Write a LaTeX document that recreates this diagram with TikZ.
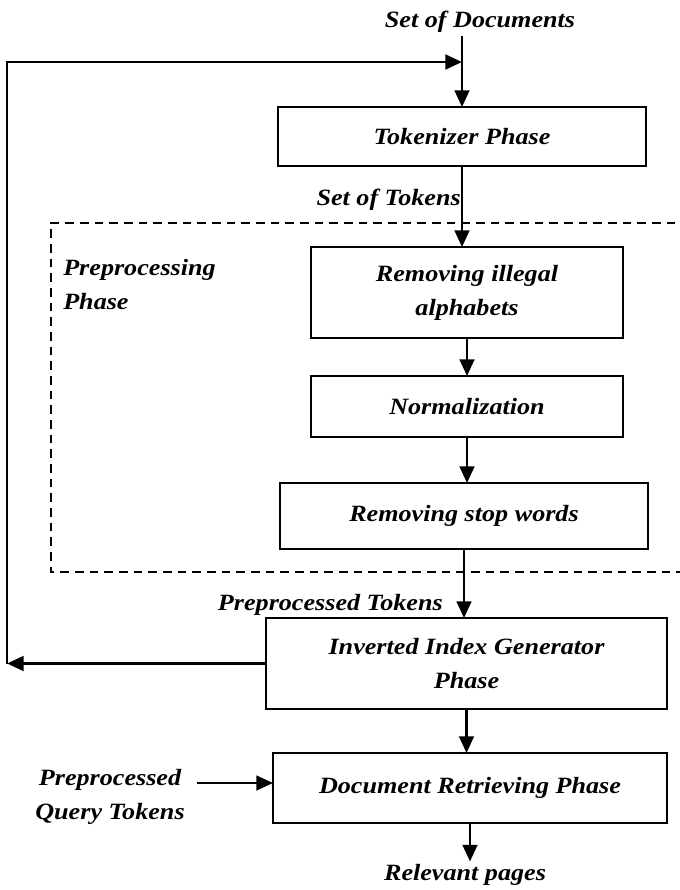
\documentclass[tikz,border=0pt]{standalone}
\usepackage{fontspec}
\setmainfont{Liberation Serif}[FakeStretch=1.12]
\usetikzlibrary{arrows.meta}
\begin{document}
\begin{tikzpicture}[x=0.75pt,y=-0.75pt,
  every node/.style={font=\fontsize{17.5pt}{25.5pt}\selectfont\bfseries\itshape},
  box/.style={draw, line width=1.6pt, inner sep=0pt, outer sep=0pt, align=center},
  lbl/.style={inner sep=0pt},
  arr/.style={line width=1.9pt, -{Triangle[length=12.5pt,width=11pt]}},
  fbline/.style={line width=2.2pt, -{Triangle[length=12.5pt,width=11pt]}},
  dashedbox/.style={line width=1.9pt, dash pattern=on 6.5pt off 4.5pt}]
\useasboundingbox (0,0) rectangle (680,890);
\fill[white] (0,0) rectangle (680,890);

% process boxes
\node[box, minimum width=276pt, minimum height=44.25pt] (tok) at (462,136.5) {Tokenizer Phase};
\node[box, minimum width=234pt, minimum height=68.25pt] (ril) at (467,292.5) {Removing illegal\\alphabets};
\node[box, minimum width=234pt, minimum height=45.75pt] (norm) at (467,406.5) {Normalization};
\node[box, minimum width=276pt, minimum height=49.5pt] (rsw) at (464,516) {Removing stop words};
\node[box, minimum width=300.75pt, minimum height=68.25pt] (inv) at (466.5,663.5) {Inverted Index Generator\\Phase};
\node[box, minimum width=295.5pt, minimum height=52.5pt] (dr) at (470,788) {Document Retrieving Phase};

% labels
\node[lbl, inner sep=2pt] (sod) at (480,22) {Set of Documents};
\node[lbl, anchor=east] (sot) at (461,200) {Set of Tokens};
\node[lbl, anchor=west, align=left] (pre) at (63,285) {Preprocessing\\Phase};
\node[lbl, anchor=east] (ppt) at (443,605) {Preprocessed Tokens};
\node[lbl, align=center] (qt) at (110,797) {Preprocessed\\Query Tokens};
\node[lbl, inner sep=2pt] (rel) at (465,875) {Relevant pages};

% preprocessing group
\draw[dashedbox] (690,223) -| (51,572) -- (690,572);

% feedback loop
\coordinate (fb) at (7,62);
\draw[fbline] (inv.west) -- (fb |- inv.west);
\draw[fbline] (fb |- inv.west) -- (fb) -- (fb -| tok.north);

% main flow
\draw[arr] (tok.north |- sod.south) -- (tok.north);
\draw[arr] (tok.south) -- (tok.south |- ril.north);
\draw[arr] (ril.south) -- (ril.south |- norm.north);
\draw[arr] (norm.south) -- (norm.south |- rsw.north);
\draw[arr] (rsw.south) -- (rsw.south |- inv.north);
\draw[arr] (inv.south) -- (inv.south |- dr.north);
\coordinate (qin) at (197,783);
\draw[arr] (qin) -- (qin -| dr.west);
\draw[arr] (dr.south) -- (dr.south |- rel.north);
\end{tikzpicture}
\end{document}
